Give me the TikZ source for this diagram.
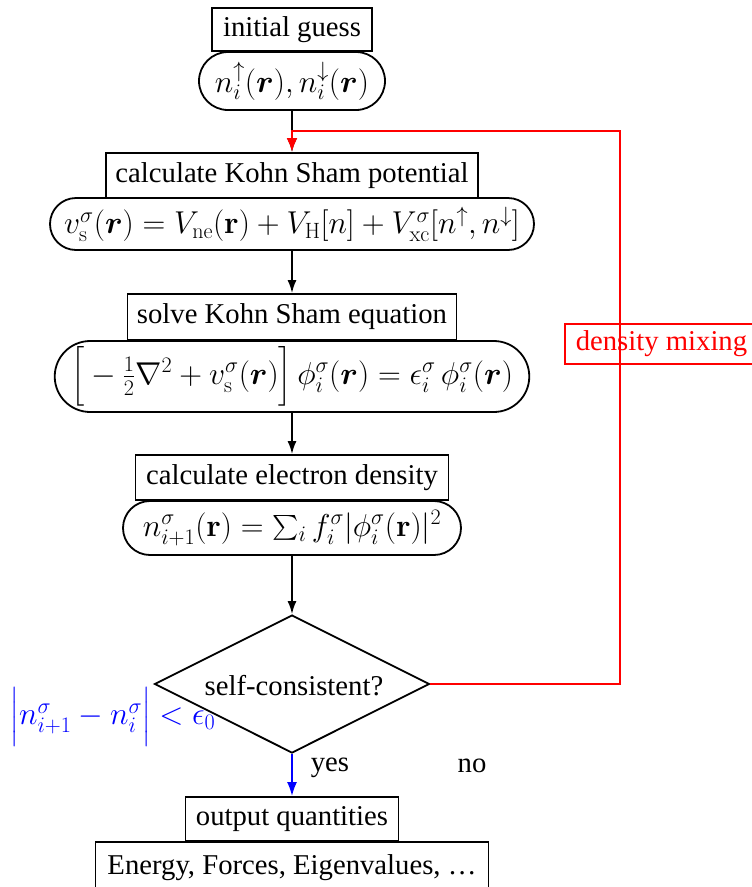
\RequirePackage{fix-cm}
\documentclass[tikz,border=0pt]{standalone}
\usepackage{amsmath,bm}
\usepackage[no-math]{fontspec}
\setmainfont{Liberation Serif}
\usetikzlibrary{shapes.geometric,shapes.misc,arrows.meta}
\begin{document}
\begin{tikzpicture}[x=1pt,y=-1pt,
  every node/.style={font=\fontsize{28.7}{34}\selectfont, inner sep=0pt},
  mathtext/.style={font=\fontsize{31.6}{37}\selectfont},
  stepbox/.style={draw, line width=1.8pt, minimum height=#1},
  pill/.style={draw, line width=1.8pt, rounded rectangle, mathtext, minimum height=#1},
  flow/.style={line width=1.8pt, -{Latex[length=13pt,width=9pt]}},
  mix/.style={red, line width=2.5pt, -{Latex[length=14pt,width=11pt]}},
  conv/.style={blue, line width=2pt, -{Latex[length=14pt,width=10pt]}}
]
\useasboundingbox (0,0) rectangle (752,887);

\node[stepbox=43pt, minimum width=160pt] (b1) at (292,29.5) {initial guess};
\node[pill=58pt, minimum width=186pt] (p1) at (292,81) {$n_i^{\uparrow}(\bm r), n_i^{\downarrow}(\bm r)$};

\node[stepbox=45pt, minimum width=372pt] (b2) at (292,175.5) {calculate Kohn Sham potential};
\node[pill=52pt, minimum width=484pt] (p2) at (292,224) {$v_{\mathrm s}^{\sigma}(\bm r)=V_{\mathrm{ne}}(\mathbf r)+V_{\mathrm H}[n]+V_{\mathrm{xc}}^{\sigma}[n^{\uparrow},n^{\downarrow}]$};

\node[stepbox=46pt, minimum width=329pt] (b3) at (292,317) {solve Kohn Sham equation};
\node[pill=71pt, minimum width=472pt] (p3) at (292,376.5) {$\Bigl[\:-\:\frac{1}{2}\nabla^2+v_{\mathrm s}^{\sigma}(\bm r)\Bigr]\,\phi_i^{\sigma}(\bm r)=\epsilon_i^{\sigma}\,\phi_i^{\sigma}(\bm r)$};

\node[stepbox=45pt, minimum width=313pt] (b4) at (292,477.5) {calculate electron density};
\node[pill=54pt, minimum width=338pt] (p4) at (292,528) {$n_{i+1}^{\sigma}(\mathbf r)=\sum_i f_i^{\sigma}|\phi_i^{\sigma}(\mathbf r)|^2$};

\node[draw, diamond, line width=1.8pt, minimum width=275pt, minimum height=138pt, aspect=2] (dia) at (292,684) {};
\node (dtxt) at (294,686) {self-consistent?};

\node[stepbox=44pt, minimum width=213pt] (b5) at (292,819) {output quantities};
\node[stepbox=52pt, minimum width=393pt] (b6) at (292,868) {Energy, Forces, Eigenvalues, \dots};

\node[draw=red, text=red, line width=1.5pt, anchor=west, minimum height=40pt, inner xsep=11pt] (mixbox) at (564,344) {density mixing};

\node[text=blue, mathtext] (crit) at (113,717) {$\Bigl|n_{i+1}^{\sigma}-n_i^{\sigma}\Bigr|<\epsilon_0$};
\node (yes) at (330,768) {yes};
\node (no) at (472,766) {no};

\coordinate (mixR) at (620,131);
\coordinate (mixJ) at (292,131);

\draw[flow] (p1.south) -- (b2.north);
\draw[flow] (p2.south) -- (b3.north);
\draw[flow] (p3.south) -- (b4.north);
\draw[flow] (p4.south) -- (dia.north);
\draw[conv] (dia.south) -- (b5.north);
\draw[mix] (dia.east) -| (mixR) -- (mixJ) -- (b2.north);
\end{tikzpicture}
\end{document}
